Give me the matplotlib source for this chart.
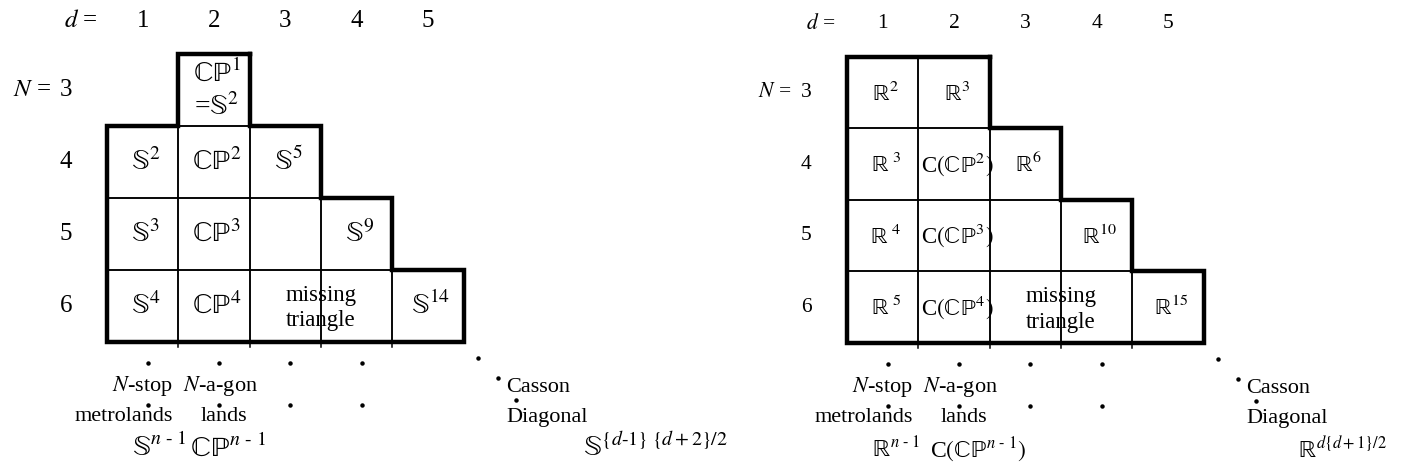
import matplotlib.pyplot as plt
from matplotlib.patches import Rectangle

plt.rcParams['font.family'] = ['Liberation Serif', 'DejaVu Serif']
plt.rcParams['mathtext.fontset'] = 'stix'
plt.rcParams['mathtext.default'] = 'rm'   # keeps the blackboard letters upright

### DATA ###
d_values = [1, 2, 3, 4, 5]
N_values = [3, 4, 5, 6]

# d columns present in each N row
left_rows = {3: [2], 4: [1, 2, 3], 5: [1, 2, 3, 4], 6: [1, 2, 3, 4, 5]}
right_rows = {3: [1, 2], 4: [1, 2, 3], 5: [1, 2, 3, 4], 6: [1, 2, 3, 4, 5]}

left_cells = {
    (3, 2): r'$\mathbb{CP}^1$' + '\n' + r'=$\mathbb{S}^2$',
    (4, 1): r'$\mathbb{S}^2$',
    (4, 2): r'$\mathbb{CP}^2$',
    (4, 3): r'$\mathbb{S}^5$',
    (5, 1): r'$\mathbb{S}^3$',
    (5, 2): r'$\mathbb{CP}^3$',
    (5, 4): r'$\mathbb{S}^9$',
    (6, 1): r'$\mathbb{S}^4$',
    (6, 2): r'$\mathbb{CP}^4$',
    (6, 5): r'$\mathbb{S}^{14}$',
}
right_cells = {
    (3, 1): r'$\mathbb{R}^2$',
    (3, 2): r'$\mathbb{R}^3$',
    (4, 1): r'$\mathbb{R}^{\ 3}$',
    (4, 2): r'C$(\mathbb{CP}^2)$',
    (4, 3): r'$\mathbb{R}^6$',
    (5, 1): r'$\mathbb{R}^{\ 4}$',
    (5, 2): r'C$(\mathbb{CP}^3)$',
    (5, 4): r'$\mathbb{R}^{10}$',
    (6, 1): r'$\mathbb{R}^{\ 5}$',
    (6, 2): r'C$(\mathbb{CP}^4)$',
    (6, 5): r'$\mathbb{R}^{15}$',
}
missing_text = 'missing\ntriangle'
col1_text = [r'$\mathit{N}$-stop', 'metrolands']
col2_text = [r'$\mathit{N}$-a-gon', 'lands']
diag_text = ['Casson', 'Diagonal']
left_general = [r'$\mathbb{S}^{\mathit{n}\ \text{-}\ 1}$', r'$\mathbb{CP}^{\mathit{n}\ \text{-}\ 1}$',
                r'$\mathbb{S}^{\{\mathit{d}\text{-}1\}\ \{\mathit{d}+2\}/2}$']
right_general = [r'$\mathbb{R}^{\mathit{n}\ \text{-}\ 1}$', r'C$(\mathbb{CP}^{\mathit{n}\ \text{-}\ 1})$',
                 r'$\mathbb{R}^{\mathit{d}\{\mathit{d}+1\}/2}$']
dot_cols = [1, 2, 3, 4]


fig = plt.figure(figsize=(14.02, 4.69), dpi=100)
ax = fig.add_axes([0, 0, 1, 1])
ax.set_xlim(0, 1402)
ax.set_ylim(469, 0)
ax.axis('off')


def panel(x0, y0, cw, ch, rows, cells, general, fs_head, fs_cell, fs_gen, diag_x):
    xl = lambda d: x0 + (d - 1) * cw
    yt = lambda n: y0 + (n - 3) * ch
    bottom = yt(6) + ch

    # thin cell grid
    for n, cols in rows.items():
        for d in cols:
            ax.add_patch(Rectangle((xl(d), yt(n)), cw, ch, fill=False,
                                   lw=1.1, ec='black'))
    # little tick stubs under the bottom row
    for d in d_values[1:]:
        ax.plot([xl(d), xl(d)], [bottom, bottom + 5], color='black', lw=1.1)

    # thick staircase outline
    pts = []
    for n in N_values:
        b = max(rows[n])
        pts += [(xl(b + 1), yt(n)), (xl(b + 1), yt(n) + ch)]
    for n in reversed(N_values):
        a = min(rows[n])
        pts += [(xl(a), yt(n) + ch), (xl(a), yt(n))]
    pts.append(pts[0])
    ax.plot([p[0] for p in pts], [p[1] for p in pts], color='black', lw=3.2,
            solid_joinstyle='miter')

    # headers
    ax.text(x0 - 26, y0 - 33, r'$\mathit{d}$ =', ha='center', va='center', fontsize=fs_head)
    for d in d_values:
        ax.text(xl(d) + cw / 2, y0 - 33, str(d), ha='center', va='center', fontsize=fs_head)
    ax.text(x0 - 56, yt(3) + ch / 2, r'$\mathit{N}$ =', ha='right', va='center', fontsize=fs_head)
    for n in N_values:
        ax.text(x0 - 41, yt(n) + ch / 2, str(n), ha='center', va='center', fontsize=fs_head)

    # cell contents
    for (n, d), s in cells.items():
        ax.text(xl(d) + cw / 2 + 3, yt(n) + ch / 2, s, ha='center', va='center',
                fontsize=fs_cell, linespacing=1.3)
    ax.text(xl(4), yt(6) + ch / 2 + 2, missing_text, ha='center', va='center',
            fontsize=16.5, linespacing=1.3)

    # dots continuing the columns down
    for d in dot_cols:
        cx = xl(d) + cw / 2 + 5
        ax.plot([cx, cx], [bottom + 21, bottom + 63], 'o', color='black', ms=2.2)
    ax.plot([x0 + 371, x0 + 391, x0 + 409], [bottom + 16, bottom + 36, bottom + 58],
            'o', color='black', ms=2.2)

    # labels under the grid
    ax.text(x0 + 66, bottom + 49, col1_text[0], ha='right', va='baseline', fontsize=16)
    ax.text(x0 + 66, bottom + 79, col1_text[1], ha='right', va='baseline', fontsize=16)
    ax.text(x0 + 113, bottom + 49, col2_text[0], ha='center', va='baseline', fontsize=16)
    ax.text(x0 + 117, bottom + 79, col2_text[1], ha='center', va='baseline', fontsize=16)
    ax.text(x0 + 399, bottom + 50, diag_text[0], ha='left', va='baseline', fontsize=16)
    ax.text(x0 + 399, bottom + 80, diag_text[1], ha='left', va='baseline', fontsize=16)
    ax.text(x0 + 25, bottom + 114, general[0], ha='left', va='baseline', fontsize=fs_gen)
    ax.text(x0 + 83, bottom + 114, general[1], ha='left', va='baseline', fontsize=fs_gen)
    ax.text(x0 + diag_x, bottom + 115, general[2], ha='left', va='baseline', fontsize=fs_gen)


panel(107, 54, 71.3, 72, left_rows, left_cells, left_general, 18, 20, 20.5, 476)
panel(847, 57, 71.3, 71.5, right_rows, right_cells, right_general, 15.5, 16.5, 17, 451)

fig.savefig('out.png', dpi=100)
